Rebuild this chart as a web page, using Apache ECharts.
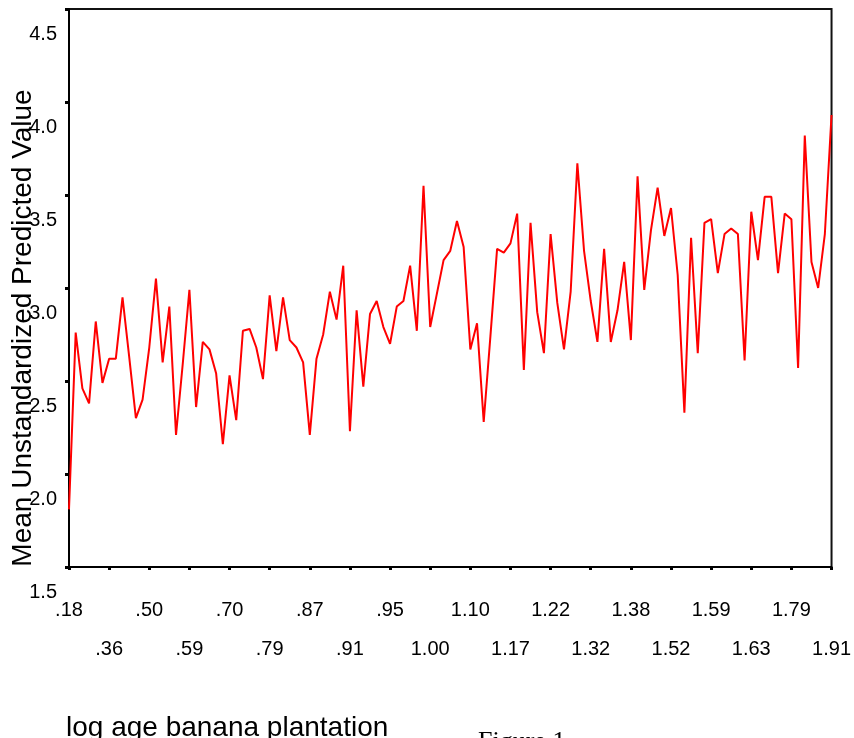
<!DOCTYPE html>
<html>

<head>
    <meta charset="utf-8">
    <title>ECharts</title>
    <script src="https://cdn.jsdelivr.net/npm/echarts@6/dist/echarts.min.js"></script>
</head>

<body style="margin:0;background:#fff;">
    <div id="main" style="width: 854px;height:738px;"></div>
    <script type="text/javascript">
        // tick labels on the x axis, one every 6 points
        var tickLabels = ['.18', '.36', '.50', '.59', '.70', '.79', '.87', '.91', '.95', '1.00',
            '1.10', '1.17', '1.22', '1.32', '1.38', '1.52', '1.59', '1.63', '1.79', '1.91'];

        // mean unstandardized predicted value
        var predicted = [
            1.81, 2.76, 2.46, 2.38, 2.82, 2.49, 2.62, 2.62, 2.95, 2.63,
            2.30, 2.40, 2.68, 3.05, 2.60, 2.90, 2.21, 2.59, 2.99, 2.36,
            2.71, 2.67, 2.54, 2.16, 2.53, 2.29, 2.77, 2.78, 2.68, 2.51,
            2.96, 2.66, 2.95, 2.72, 2.68, 2.60, 2.21, 2.62, 2.75, 2.98,
            2.83, 3.12, 2.23, 2.88, 2.47, 2.86, 2.93, 2.79, 2.70, 2.90,
            2.93, 3.12, 2.77, 3.55, 2.79, 2.97, 3.15, 3.20, 3.36, 3.22,
            2.67, 2.81, 2.28, 2.74, 3.21, 3.19, 3.24, 3.40, 2.56, 3.35,
            2.87, 2.65, 3.29, 2.92, 2.67, 2.98, 3.67, 3.20, 2.93, 2.71,
            3.21, 2.71, 2.88, 3.14, 2.72, 3.60, 2.99, 3.31, 3.54, 3.28,
            3.43, 3.07, 2.33, 3.27, 2.65, 3.35, 3.37, 3.08, 3.29, 3.32,
            3.29, 2.61, 3.41, 3.15, 3.49, 3.49, 3.08, 3.40, 3.37, 2.57,
            3.82, 3.14, 3.00, 3.29, 3.93
        ];

        var categories = predicted.map(function (v, i) { return i; });

        var myChart = echarts.init(document.getElementById('main'));

        var option = {
            animation: false,
            backgroundColor: '#fff',
            grid: {
                left: 69,
                right: 21,
                top: 9,
                bottom: 171,
                show: true,
                borderColor: '#111',
                borderWidth: 2
            },
            xAxis: {
                type: 'category',
                boundaryGap: false,
                data: categories,
                axisLine: { lineStyle: { color: '#000', width: 2 } },
                axisTick: { interval: 5, length: 3, lineStyle: { color: '#000', width: 3 } },
                axisLabel: {
                    interval: 5,
                    margin: 24,
                    fontSize: 20,
                    lineHeight: 39,
                    fontFamily: 'Liberation Sans, Arial',
                    color: '#000',
                    formatter: function (v, idx) {
                        var k = Math.round(idx / 6);
                        return (k % 2 ? '\n' : '') + tickLabels[k];
                    }
                },
                splitLine: { show: false }
            },
            yAxis: {
                type: 'value',
                min: 1.5,
                max: 4.5,
                interval: 0.5,
                axisLine: { show: true, lineStyle: { color: '#000', width: 2 } },
                axisTick: { show: true, length: 4, lineStyle: { color: '#000', width: 3 } },
                axisLabel: {
                    margin: 12,
                    fontSize: 20,
                    fontFamily: 'Liberation Sans, Arial',
                    color: '#000',
                    verticalAlign: 'top',
                    lineHeight: 50,
                    formatter: function (v) { return v.toFixed(1); }
                },
                splitLine: { show: false }
            },
            graphic: [
                {
                    type: 'text',
                    x: 23,
                    y: 328,
                    rotation: Math.PI / 2,
                    style: {
                        text: 'Mean Unstandardized Predicted Value',
                        font: '28px "Liberation Sans", Arial',
                        fill: '#000',
                        align: 'center',
                        verticalAlign: 'middle'
                    }
                },
                {
                    type: 'text',
                    left: 66,
                    top: 714,
                    style: {
                        text: 'log age banana plantation',
                        font: '28px "Liberation Sans", Arial',
                        fill: '#000'
                    }
                },
                {
                    type: 'text',
                    left: 478,
                    top: 729,
                    style: {
                        text: 'Figure 1',
                        font: '26px "Liberation Serif", "Times New Roman", serif',
                        fill: '#000'
                    }
                }
            ],
            series: [{
                type: 'line',
                data: predicted,
                showSymbol: false,
                symbol: 'none',
                lineStyle: { color: '#ff0000', width: 2 },
                z: 3
            }]
        };

        myChart.setOption(option);
    </script>
</body>

</html>
